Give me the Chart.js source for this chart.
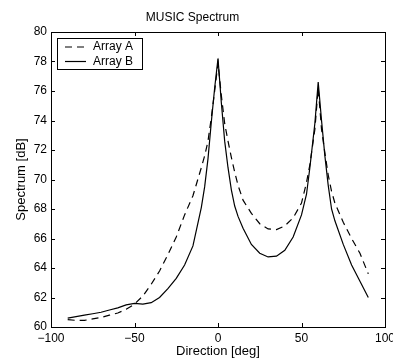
<!DOCTYPE html>
<html><head><meta charset="utf-8">
<script src="https://cdn.jsdelivr.net/npm/chart.js@4.4.1/dist/chart.umd.min.js"></script>
<style>html,body{margin:0;padding:0;background:#fff}#wrap{width:393px;height:360px;position:relative}</style>
</head><body><div id="wrap"><canvas id="c"></canvas></div>
<script>
const directions = [-90,-85,-80,-75,-70,-65,-60,-55,-50,-45,-40,-35,-30,-25,-20,-15,-10,-8,-6,-4,-2,0,2,4,6,8,10,12,15,20,25,30,35,40,45,50,53,55,58,60,62,64,66,68,70,75,80,85,90];
const arrayA = [60.5,60.45,60.45,60.55,60.65,60.8,60.95,61.2,61.55,62.1,62.9,63.8,64.9,66.1,67.6,68.9,70.8,71.6,72.6,74.2,76.0,77.9,75.7,73.8,72.6,71.5,70.5,69.6,68.6,67.7,67.0,66.65,66.6,66.85,67.4,68.4,69.8,71.0,73.4,76.2,73.4,71.8,70.3,69.2,68.4,67.1,66.0,65.0,63.6];
const arrayB = [60.6,60.7,60.8,60.9,61.0,61.15,61.3,61.5,61.6,61.55,61.65,62.0,62.6,63.3,64.2,65.5,68.1,69.5,71.4,73.9,76.2,78.2,75.2,72.6,70.8,69.3,68.2,67.5,66.7,65.6,65.0,64.75,64.8,65.2,66.1,67.6,69.0,70.8,73.8,76.6,74.0,71.6,69.6,68.0,67.2,65.6,64.2,63.1,62.0];
const seriesNames = ['Array A','Array B'];
const xTickValues = [-100,-50,0,50,100];
const yTickValues = [60,62,64,66,68,70,72,74,76,78,80];
const titleText = 'MUSIC Spectrum';
const xTitle = 'Direction [deg]';
const yTitle = 'Spectrum [dB]';

Chart.defaults.font.family = '"Liberation Sans", Arial, Helvetica, sans-serif';
Chart.defaults.color = '#000';

const fmt = v => (v < 0 ? '\u2212' + Math.abs(v) : String(v));

const boxPlugin = {
  id: 'boxTicks',
  afterDraw(chart) {
    const ctx = chart.ctx, a = chart.chartArea;
    const xs = chart.scales.x, ys = chart.scales.y;
    ctx.save();
    ctx.strokeStyle = '#000';
    ctx.lineWidth = 1;
    ctx.strokeRect(Math.round(a.left) + 0.5, Math.round(a.top) + 0.5, Math.round(a.right - a.left), Math.round(a.bottom - a.top));
    const tl = 4;
    ctx.beginPath();
    xs.ticks.forEach(t => {
      const px = Math.round(xs.getPixelForValue(t.value)) + 0.5;
      ctx.moveTo(px, a.bottom); ctx.lineTo(px, a.bottom - tl);
      ctx.moveTo(px, a.top); ctx.lineTo(px, a.top + tl);
    });
    ys.ticks.forEach(t => {
      const py = Math.round(ys.getPixelForValue(t.value)) + 0.5;
      ctx.moveTo(a.left, py); ctx.lineTo(a.left + tl, py);
      ctx.moveTo(a.right, py); ctx.lineTo(a.right - tl, py);
    });
    ctx.stroke();
    // legend
    ctx.font = '12px ' + Chart.defaults.font.family;
    const ds = chart.data.datasets;
    let tw = 0;
    ds.forEach(d => { tw = Math.max(tw, ctx.measureText(d.label).width); });
    const lx = Math.round(a.left) + 6, ly = Math.round(a.top) + 6;
    const lw = Math.round(36 + tw + 9), lh = 31;
    ctx.fillStyle = '#fff';
    ctx.fillRect(lx, ly, lw, lh);
    ctx.strokeRect(lx + 0.5, ly + 0.5, lw, lh);
    ds.forEach((d, i) => {
      const y = ly + 9 + i * 14.5;
      ctx.save();
      ctx.setLineDash(d.borderDash || []);
      ctx.lineWidth = d.borderWidth;
      ctx.strokeStyle = d.borderColor;
      ctx.beginPath();
      ctx.moveTo(lx + 8, y); ctx.lineTo(lx + 29, y);
      ctx.stroke();
      ctx.restore();
      ctx.fillStyle = '#000';
      ctx.textBaseline = 'middle';
      ctx.textAlign = 'left';
      ctx.fillText(d.label, lx + 36, y);
    });
    ctx.restore();
  }
};

new Chart(document.getElementById('c'), {
  type: 'line',
  data: {
    labels: directions,
    datasets: [
      { label: seriesNames[0], data: directions.map((x, i) => ({x, y: arrayA[i]})), borderColor: '#000', borderWidth: 1.2, borderDash: [7,5], pointRadius: 0, tension: 0, fill: false },
      { label: seriesNames[1], data: directions.map((x, i) => ({x, y: arrayB[i]})), borderColor: '#000', borderWidth: 1.2, pointRadius: 0, tension: 0, fill: false }
    ]
  },
  options: {
    responsive: true, maintainAspectRatio: false, animation: false, devicePixelRatio: 1,
    layout: { padding: { top: 0, left: 0, right: 8, bottom: 0 } },
    plugins: {
      legend: { display: false },
      tooltip: { enabled: false },
      title: { display: true, text: titleText, color: '#000', font: { size: 12, weight: 'normal' }, padding: { top: 10, bottom: 7.6 } }
    },
    scales: {
      x: {
        type: 'linear', min: -100, max: 100,
        afterBuildTicks: s => { s.ticks = xTickValues.map(v => ({ value: v })); },
        afterFit: s => { s.height = 33; s.paddingRight = 0; s.paddingLeft = 0; },
        grid: { display: false, drawTicks: false }, border: { display: false },
        ticks: { padding: 4, font: { size: 12 }, color: '#000', maxRotation: 0, autoSkip: false, callback: v => fmt(v) },
        title: { display: true, text: xTitle, color: '#000', font: { size: 13 }, padding: { top: 0, bottom: 1 } }
      },
      y: {
        type: 'linear', min: 60, max: 80,
        afterBuildTicks: s => { s.ticks = yTickValues.map(v => ({ value: v })); },
        afterFit: s => { s.width = 51; },
        grid: { display: false, drawTicks: false }, border: { display: false },
        ticks: { padding: 4, font: { size: 12 }, color: '#000', autoSkip: false, callback: v => fmt(v) },
        title: { display: true, text: yTitle, color: '#000', font: { size: 13 }, padding: { top: 14, bottom: 0 } }
      }
    }
  },
  plugins: [boxPlugin]
});
</script>
</body></html>
